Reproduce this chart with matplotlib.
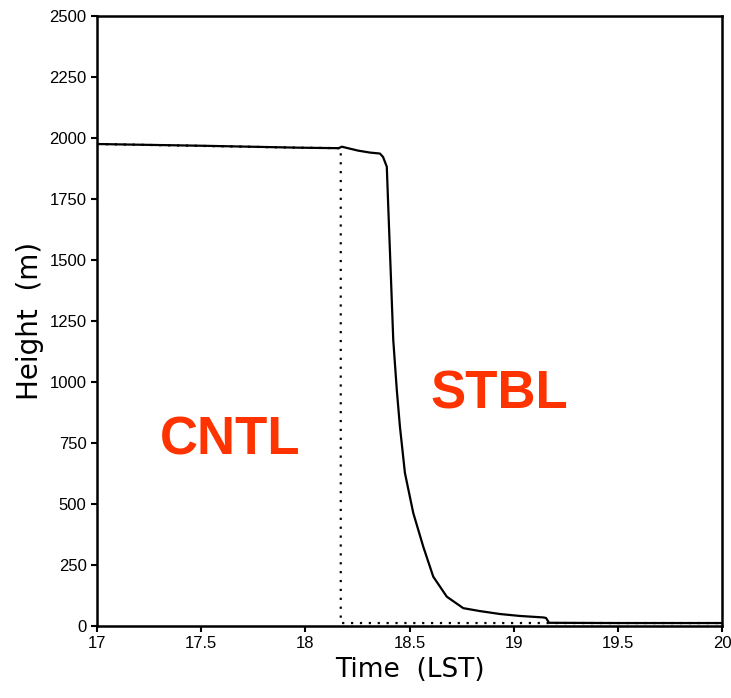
import matplotlib
matplotlib.use("Agg")
import matplotlib.pyplot as plt

# STBL run (solid line)
stbl_t = [17.0, 17.5, 17.97, 18.16, 18.175, 18.253, 18.31, 18.358, 18.373,
          18.391, 18.398, 18.41, 18.422, 18.439, 18.454, 18.478, 18.518,
          18.566, 18.614, 18.679, 18.758, 18.838, 18.934, 19.03, 19.141,
          19.155, 19.17, 19.5, 20.0]
stbl_h = [1975, 1968, 1960, 1958, 1964, 1948, 1940, 1936, 1922,
          1882, 1718, 1447, 1172, 967, 817, 627, 463,
          325, 202, 120, 73, 61, 49, 41, 35,
          33, 13, 12, 12]

# CNTL run (dotted line)
cntl_t = [17.0, 17.97, 18.17, 18.17, 19.0, 20.0]
cntl_h = [1975, 1960, 1958, 12, 12, 12]

plt.rcParams['font.family'] = ['Liberation Sans', 'DejaVu Sans']

fig = plt.figure(figsize=(7.31, 6.98), dpi=100)
ax = fig.add_axes([0.1327, 0.1032, 0.855, 0.874])

ax.plot(cntl_t, cntl_h, color='black', linestyle=(0, (1, 3)), linewidth=1.6)
ax.plot(stbl_t, stbl_h, color='black', linewidth=1.6)

ax.set_xlim(17, 20)
ax.set_ylim(0, 2500)
ax.set_xticks([17, 17.5, 18, 18.5, 19, 19.5, 20])
ax.set_xticklabels(['17', '17.5', '18', '18.5', '19', '19.5', '20'])
ax.set_yticks(range(0, 2501, 250))
ax.tick_params(direction='out', length=4, width=1.5, labelsize=12)
for s in ax.spines.values():
    s.set_linewidth(1.8)

ax.set_xlabel('Time  (LST)', fontsize=19, family='DejaVu Sans')
ax.set_ylabel('Height  (m)', fontsize=20, family='DejaVu Sans')

ax.text(17.64, 762, 'CNTL', color='#ff3300', fontsize=38, fontweight='bold',
        ha='center', va='center')
ax.text(18.93, 947, 'STBL', color='#ff3300', fontsize=38, fontweight='bold',
        ha='center', va='center')

fig.savefig('out.png', dpi=100)
